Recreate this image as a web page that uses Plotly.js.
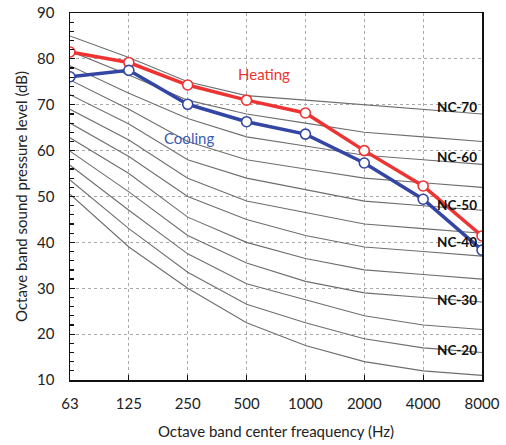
<!DOCTYPE html>
<html>
<head>
<meta charset="utf-8">
<script src="https://cdn.plot.ly/plotly-3.0.1.min.js"></script>
<style>html,body{margin:0;padding:0;background:#fff;}#chart{width:506px;height:445px;}</style>
</head>
<body>
<div id="chart"></div>
<script>
var freqs = ["63","125","250","500","1000","2000","4000","8000"];

var nc15 = [50.5, 39.0, 30.0, 22.5, 17.5, 14, 12, 11];
var nc20 = [53.6, 43.0, 33.5, 26.5, 22.5, 19, 17, 16];
var nc25 = [56.8, 47.0, 37.5, 31.0, 27.5, 24, 22, 21];
var nc30 = [59.9, 51.0, 41.5, 35.5, 31.5, 29, 28, 27];
var nc35 = [62.8, 55.0, 45.5, 40.0, 36.5, 34, 33, 32];
var nc40 = [66.0, 58.7, 50.0, 45.0, 41.5, 39, 38, 37];
var nc45 = [69.0, 62.3, 54.0, 49.0, 46.5, 44, 43, 42];
var nc50 = [72.2, 65.8, 58.0, 54.0, 51.5, 49, 48, 47];
var nc55 = [75.4, 69.0, 62.0, 58.0, 56.0, 54, 53, 52];
var nc60 = [78.5, 72.5, 67.0, 63.0, 61.0, 59, 58, 57];
var nc65 = [81.7, 76.5, 71.0, 68.0, 66.0, 64, 63, 62];
var nc70 = [85.0, 80.3, 75.0, 72.0, 71.0, 70, 69, 68];

var heating = [81.5, 79.2, 74.3, 71.0, 68.2, 60.0, 52.3, 41.4];
var cooling = [76.1, 77.5, 70.1, 66.3, 63.6, 57.3, 49.4, 38.3];

var ncLabels = ["NC-70","NC-60","NC-50","NC-40","NC-30","NC-20"];
var ncLabelY = [69.6, 58.7, 48.1, 40.1, 27.4, 16.5];

var ncCurves = [nc15,nc20,nc25,nc30,nc35,nc40,nc45,nc50,nc55,nc60,nc65,nc70];
var FONT = "Lato, 'Open Sans', sans-serif";

var traces = ncCurves.map(function(v){
  return {x: freqs, y: v, type: "scatter", mode: "lines",
    line: {color: "#6e6e6e", width: 1.1}, hoverinfo: "skip", showlegend: false};
});
traces.push({x: freqs, y: heating, type: "scatter", mode: "lines+markers", name: "Heating",
  line: {color: "#ee3333", width: 3.5},
  marker: {symbol: "circle", size: 10, color: "#ffffff", line: {color: "#ee3333", width: 1.6}},
  showlegend: false});
traces.push({x: freqs, y: cooling, type: "scatter", mode: "lines+markers", name: "Cooling",
  line: {color: "#3346a3", width: 3.5},
  marker: {symbol: "circle", size: 10, color: "#ffffff", line: {color: "#3346a3", width: 1.6}},
  showlegend: false});

var annotations = ncLabels.map(function(t, i){
  return {x: 6.58, y: ncLabelY[i], xref: "x", yref: "y", text: "<b>" + t + "</b>",
    showarrow: false, xanchor: "center", yanchor: "middle",
    font: {family: FONT, size: 13.5, color: "#111111"}};
});
annotations.push({x: 3.3, y: 76.6, xref: "x", yref: "y", text: "Heating", showarrow: false,
  font: {family: FONT, size: 15, color: "#ee3333"}});
annotations.push({x: 2.02, y: 62.7, xref: "x", yref: "y", text: "Cooling", showarrow: false,
  font: {family: FONT, size: 15, color: "#3b5bb5"}});

var layout = {
  width: 506, height: 445,
  margin: {l: 70, r: 24, t: 13, b: 65},
  paper_bgcolor: "#ffffff", plot_bgcolor: "#ffffff",
  font: {family: FONT, size: 15, color: "#222222"},
  showlegend: false,
  xaxis: {
    type: "category", range: [0, 7],
    showline: true, linecolor: "#111111", linewidth: 1.5, mirror: true,
    showgrid: true, gridcolor: "#aaaaaa", griddash: "dot", gridwidth: 1,
    ticks: "inside", ticklen: 5, tickcolor: "#111111", tickwidth: 1.2,
    ticklabelstandoff: 9,
    tickfont: {family: FONT, size: 15, color: "#222222"},
    title: {text: "Octave band center freaquency (Hz)", font: {family: FONT, size: 15, color: "#222222"}, standoff: 16},
    zeroline: false
  },
  yaxis: {
    range: [10, 90], dtick: 10,
    showline: true, linecolor: "#111111", linewidth: 1.5, mirror: true,
    showgrid: true, gridcolor: "#aaaaaa", griddash: "dot", gridwidth: 1,
    ticks: "inside", ticklen: 5, tickcolor: "#111111", tickwidth: 1.2,
    ticklabelstandoff: 11,
    minor: {dtick: 2, ticks: "inside", ticklen: 4, tickcolor: "#111111", showgrid: false},
    tickfont: {family: FONT, size: 15, color: "#222222"},
    title: {text: "Octave band sound pressure level (dB)", font: {family: FONT, size: 15, color: "#222222"}, standoff: 6},
    zeroline: false
  },
  annotations: annotations
};

Plotly.newPlot("chart", traces, layout, {displayModeBar: false, staticPlot: true});
</script>
</body>
</html>
